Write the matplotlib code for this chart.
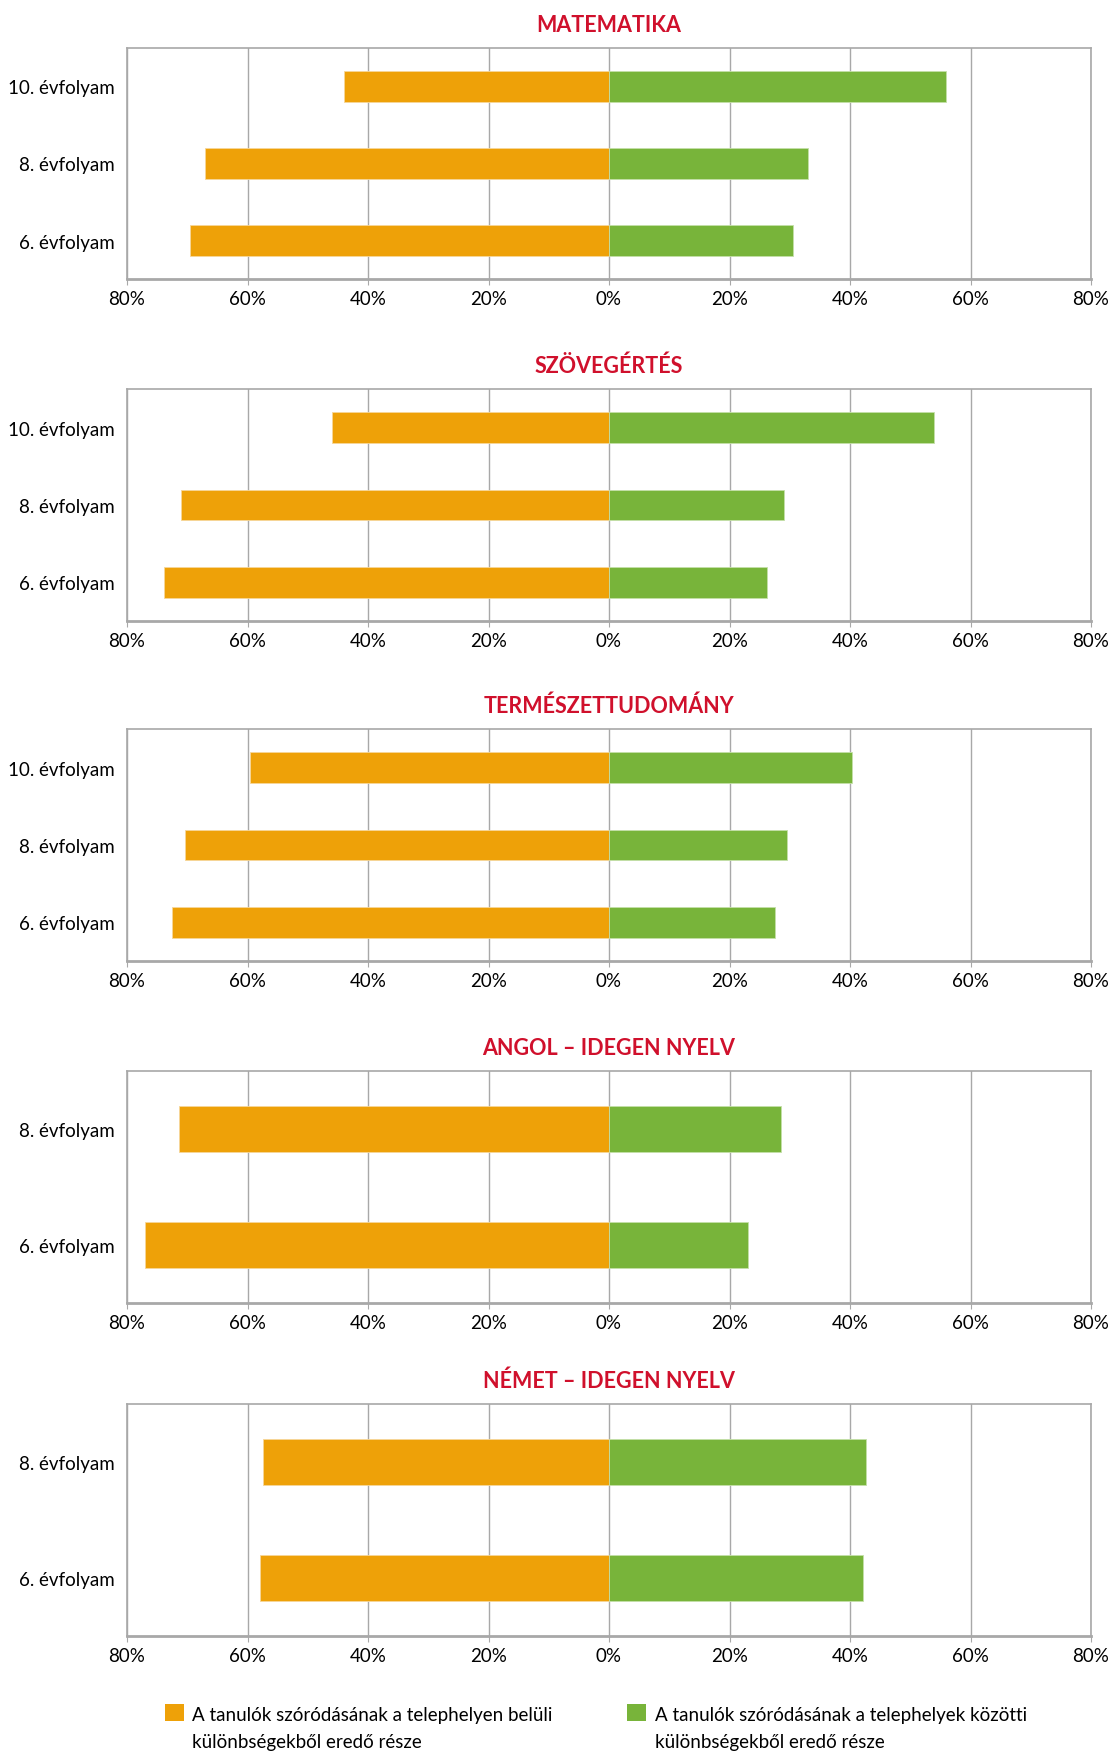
import numpy as np
import matplotlib
matplotlib.use("Agg")
import matplotlib.pyplot as plt
from matplotlib.patches import Patch, Rectangle
from matplotlib.legend_handler import HandlerPatch

plt.rcParams["font.family"] = ["Lato", "DejaVu Sans"]

# data: share of variance (%) within sites (orange) and between sites (green)
subjects = ["MATEMATIKA", "SZÖVEGÉRTÉS", "TERMÉSZETTUDOMÁNY",
            "ANGOL – IDEGEN NYELV", "NÉMET – IDEGEN NYELV"]
grades = [["10. évfolyam", "8. évfolyam", "6. évfolyam"],
          ["10. évfolyam", "8. évfolyam", "6. évfolyam"],
          ["10. évfolyam", "8. évfolyam", "6. évfolyam"],
          ["8. évfolyam", "6. évfolyam"],
          ["8. évfolyam", "6. évfolyam"]]
within = [[44, 67, 69.5],
          [46, 71, 73.8],
          [59.6, 70.4, 72.5],
          [71.4, 77],
          [57.4, 57.9]]
between = [[56, 33, 30.5],
           [54, 29, 26.2],
           [40.4, 29.6, 27.5],
           [28.6, 23],
           [42.6, 42.1]]
xticks = [-80, -60, -40, -20, 0, 20, 40, 60, 80]
legend_labels = ["A tanulók szóródásának a telephelyen belüli\nkülönbségekből eredő része",
                 "A tanulók szóródásának a telephelyek közötti\nkülönbségekből eredő része"]

ORANGE = "#eea108"
GREEN = "#78b43a"
RED = "#d0102c"
GRID = "#a8a8a8"

W, H = 1112, 1758
fig = plt.figure(figsize=(W / 100, H / 100), dpi=100)

panels = [(49, 280), (390, 622), (730, 962), (1072, 1304), (1405, 1637)]
left, right = 127, 1091

for i, (top, bot) in enumerate(panels):
    ax = fig.add_axes([left / W, 1 - bot / H, (right - left) / W, (bot - top) / H])
    n = len(grades[i])
    y = np.arange(n)[::-1]
    ax.barh(y, [-v for v in within[i]], height=0.4, color=ORANGE,
            edgecolor="#f6d79a", linewidth=0.6, zorder=3)
    ax.barh(y, between[i], height=0.4, color=GREEN,
            edgecolor="#c4e0a8", linewidth=0.6, zorder=3)
    ax.set_xlim(-80, 80)
    ax.set_ylim(-0.5, n - 0.5)
    ax.set_yticks(y)
    ax.set_yticklabels(grades[i], fontsize=13.5)
    ax.set_xticks(xticks)
    ax.set_xticklabels([f"{abs(t)}%" for t in xticks], fontsize=13.5)
    ax.tick_params(axis="y", length=0, pad=9)
    ax.tick_params(axis="x", length=4, color=GRID, pad=4)
    ax.grid(axis="x", color=GRID, linewidth=1, zorder=0)
    for s in ax.spines.values():
        s.set_color(GRID)
        s.set_linewidth(1.2)
    ax.spines["bottom"].set_linewidth(2)
    ax.set_title(subjects[i], color=RED, fontsize=15.5, fontweight="bold", pad=12)


def top_square(legend, orig_handle, xdescent, ydescent, width, height, fontsize):
    # square aligned with the first line of a two-line label
    return Rectangle((-xdescent, -ydescent + 0.85 * fontsize), width, height)


handles = [Patch(facecolor=ORANGE), Patch(facecolor=GREEN)]
leg = fig.legend(handles, legend_labels, ncol=2, loc="upper left",
                 bbox_to_anchor=(148 / W, 1 - 1690 / H), frameon=False,
                 fontsize=13.5, handlelength=1.0, handleheight=1.0,
                 handletextpad=0.45, columnspacing=4.0,
                 handler_map={Patch: HandlerPatch(patch_func=top_square)})
for t in leg.get_texts():
    t.set_linespacing(1.75)

fig.savefig("out.png", dpi=100)
